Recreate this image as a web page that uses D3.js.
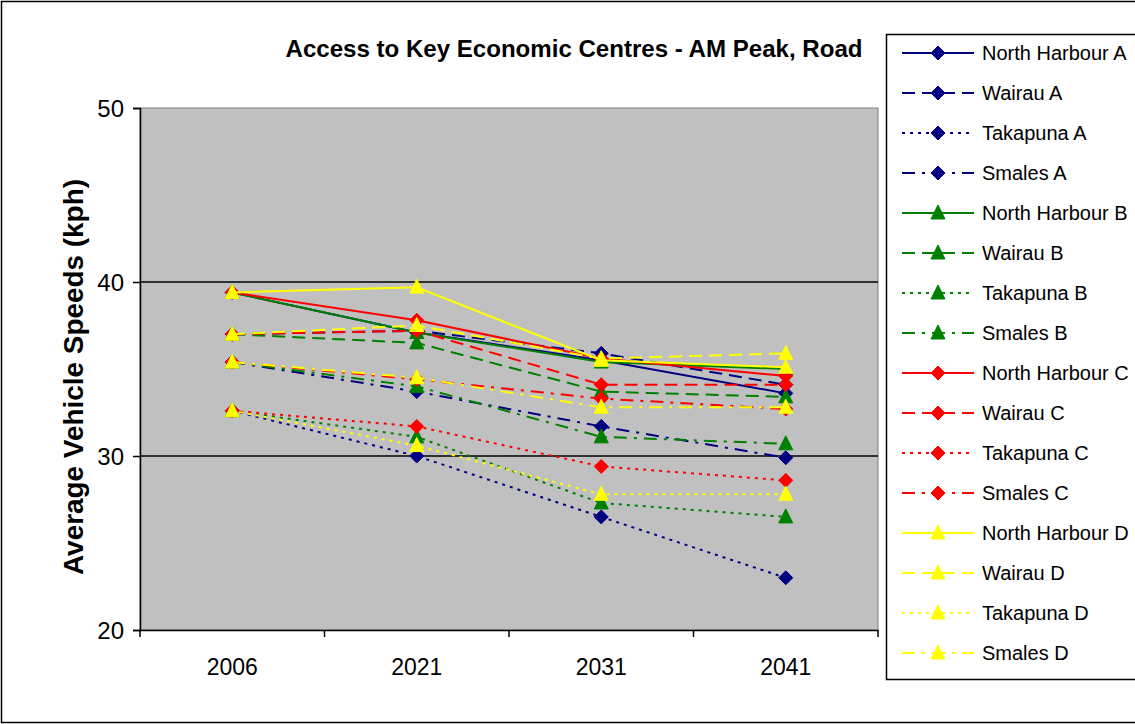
<!DOCTYPE html>
<html>
<head>
<meta charset="utf-8">
<script src="https://cdn.jsdelivr.net/npm/d3@7"></script>
<style>
  html, body { margin: 0; padding: 0; background: #fff; }
  text { font-family: "Liberation Sans", Arial, sans-serif; }
</style>
</head>
<body>
<svg id="chart" width="1135" height="724"></svg>
<script>
const title = "Access to Key Economic Centres - AM Peak, Road";
const yTitle = "Average Vehicle Speeds (kph)";
const years = ["2006", "2021", "2031", "2041"];
const yTicks = [20, 30, 40, 50];

const seriesNames = [
  "North Harbour A", "Wairau A", "Takapuna A", "Smales A",
  "North Harbour B", "Wairau B", "Takapuna B", "Smales B",
  "North Harbour C", "Wairau C", "Takapuna C", "Smales C",
  "North Harbour D", "Wairau D", "Takapuna D", "Smales D"
];

const northHarbourA = [39.4, 37.1, 35.5, 33.6];
const wairauA       = [37.0, 37.2, 35.9, 34.1];
const takapunaA     = [32.6, 30.0, 26.5, 23.0];
const smalesA       = [35.4, 33.7, 31.7, 29.9];
const northHarbourB = [39.4, 37.1, 35.4, 35.0];
const wairauB       = [37.0, 36.5, 33.7, 33.4];
const takapunaB     = [32.6, 31.1, 27.3, 26.5];
const smalesB       = [35.4, 34.0, 31.1, 30.7];
const northHarbourC = [39.4, 37.8, 35.6, 34.6];
const wairauC       = [37.0, 37.2, 34.1, 34.1];
const takapunaC     = [32.6, 31.7, 29.4, 28.6];
const smalesC       = [35.4, 34.4, 33.3, 32.7];
const northHarbourD = [39.4, 39.7, 35.5, 35.1];
const wairauD       = [37.0, 37.5, 35.6, 35.9];
const takapunaD     = [32.6, 30.6, 27.8, 27.8];
const smalesD       = [35.4, 34.5, 32.8, 32.8];

const seriesValues = [
  northHarbourA, wairauA, takapunaA, smalesA,
  northHarbourB, wairauB, takapunaB, smalesB,
  northHarbourC, wairauC, takapunaC, smalesC,
  northHarbourD, wairauD, takapunaD, smalesD
];

const groupColors = ["#000080", "#008000", "#FF0000", "#FFFF00"];
const groupMarkers = ["diamond", "triangle", "diamond", "triangle"];
const dashStyles = ["none", "13,7", "3,5", "13,7,3,7"];

const series = seriesNames.map((name, i) => ({
  name,
  values: seriesValues[i],
  color: groupColors[Math.floor(i / 4)],
  marker: groupMarkers[Math.floor(i / 4)],
  dash: dashStyles[i % 4]
}));

const svg = d3.select("#chart");
const W = 1135, H = 724;
const plot = { left: 140, right: 878, top: 108, bottom: 630 };
const FONT = "Liberation Sans, Arial, sans-serif";

// outer border
svg.append("rect").attr("x", 1.5).attr("y", 1.5).attr("width", W + 10).attr("height", H - 3)
  .attr("fill", "#fff").attr("stroke", "#000").attr("stroke-width", 1.5);

const x = d3.scaleBand().domain(years).range([plot.left, plot.right]);
const xc = d => x(d) + x.bandwidth() / 2;
const y = d3.scaleLinear().domain([20, 50]).range([plot.bottom, plot.top]);

// plot area
svg.append("rect").attr("x", plot.left).attr("y", plot.top)
  .attr("width", plot.right - plot.left).attr("height", plot.bottom - plot.top)
  .attr("fill", "#C0C0C0").attr("stroke", "#808080").attr("stroke-width", 1);

// gridlines
svg.append("g").selectAll("line").data(yTicks.filter(t => t > 20 && t < 50)).join("line")
  .attr("x1", plot.left).attr("x2", plot.right)
  .attr("y1", d => y(d)).attr("y2", d => y(d))
  .attr("stroke", "#000").attr("stroke-width", 1.5);

// y axis
const yAxis = d3.axisLeft(y).tickValues(yTicks).tickSize(7).tickPadding(9).tickFormat(d3.format("d"));
const gy = svg.append("g").attr("transform", `translate(${plot.left},0)`).call(yAxis);
gy.select(".domain").attr("stroke", "#000").attr("stroke-width", 1.5);
gy.selectAll(".tick line").attr("stroke", "#000").attr("stroke-width", 1.5);
gy.selectAll(".tick text").attr("font-size", 24).attr("fill", "#000")
  .attr("font-family", FONT).attr("dy", "0.34em");

// x axis
const xAxis = d3.axisBottom(x).tickSize(0).tickPadding(29);
const gx = svg.append("g").attr("transform", `translate(0,${plot.bottom})`).call(xAxis);
gx.select(".domain").attr("stroke", "#000").attr("stroke-width", 1.5);
gx.selectAll(".tick text").attr("font-size", 23).attr("fill", "#000")
  .attr("font-family", FONT);
// category boundary ticks
const bounds = years.map(d => x(d)).concat([x(years[years.length - 1]) + x.bandwidth()]);
svg.append("g").selectAll("line").data(bounds).join("line")
  .attr("x1", d => d).attr("x2", d => d)
  .attr("y1", plot.bottom).attr("y2", plot.bottom + 7)
  .attr("stroke", "#000").attr("stroke-width", 1.5);

// markers
function markerPath(type) {
  if (type === "diamond") return "M0,-7L7,0L0,7L-7,0Z";
  return "M0,-8L7,6L-7,6Z";
}

const line = d3.line().x((d, i) => xc(years[i])).y(d => y(d));

const gSeries = svg.append("g");
series.forEach(s => {
  const g = gSeries.append("g");
  g.append("path").datum(s.values).attr("d", line)
    .attr("fill", "none").attr("stroke", s.color).attr("stroke-width", 2)
    .attr("stroke-dasharray", s.dash === "none" ? null : s.dash);
  g.selectAll("path.m").data(s.values).join("path").attr("class", "m")
    .attr("d", markerPath(s.marker))
    .attr("transform", (d, i) => `translate(${xc(years[i])},${y(d)})`)
    .attr("fill", s.color).attr("stroke", s.color).attr("stroke-width", 1);
});

// title
svg.append("text").attr("x", 574).attr("y", 57).attr("text-anchor", "middle")
  .attr("font-size", 23).attr("font-weight", "bold").attr("fill", "#000")
  .attr("textLength", 577).attr("lengthAdjust", "spacingAndGlyphs")
  .text(title);

// y title
svg.append("text").attr("transform", "translate(83,377) rotate(-90)")
  .attr("text-anchor", "middle").attr("font-size", 27).attr("font-weight", "bold")
  .attr("fill", "#000").attr("textLength", 396).attr("lengthAdjust", "spacingAndGlyphs")
  .text(yTitle);

// legend
const lg = svg.append("g");
lg.append("rect").attr("x", 886.5).attr("y", 34.5).attr("width", 260).attr("height", 645)
  .attr("fill", "#fff").attr("stroke", "#000").attr("stroke-width", 1.5);
series.forEach((s, i) => {
  const cy = 53 + 40 * i;
  const row = lg.append("g").attr("transform", `translate(0,${cy})`);
  row.append("line").attr("x1", 902).attr("x2", 974).attr("y1", 0).attr("y2", 0)
    .attr("stroke", s.color).attr("stroke-width", 2)
    .attr("stroke-dasharray", s.dash === "none" ? null : s.dash);
  row.append("path").attr("d", markerPath(s.marker))
    .attr("transform", `translate(938,0)`)
    .attr("fill", s.color).attr("stroke", s.color).attr("stroke-width", 1);
  row.append("text").attr("x", 982).attr("y", 0).attr("dy", "0.36em")
    .attr("font-size", 20).attr("fill", "#000").text(s.name);
});
</script>
</body>
</html>
